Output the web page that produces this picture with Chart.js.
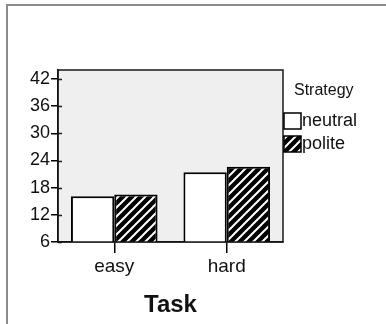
<!DOCTYPE html>
<html>
<head>
<meta charset="utf-8">
<script src="https://cdn.jsdelivr.net/npm/chart.js@4.4.1/dist/chart.umd.min.js"></script>
<style>
html, body { margin: 0; padding: 0; background: #fff; overflow: hidden; }
#frame { position: absolute; left: 6px; top: 4px; width: 500px; height: 500px; border-left: 2px solid #8c8c8c; border-top: 2px solid #8c8c8c; }
#chart { position: absolute; left: 0; top: 0; }
</style>
</head>
<body>
<div id="frame"></div>
<canvas id="chart" width="386" height="324"></canvas>
<script>
var categories = ['easy', 'hard'];
var series_names = ['neutral', 'polite'];
var neutral_values = [16.1, 21.4];
var polite_values = [16.5, 22.6];
var y_ticks = [6, 12, 18, 24, 30, 36, 42];
var y_min = 6, y_max = 44;
var legend_title = 'Strategy';
var x_title = 'Task';

var FONT = '"Liberation Sans", Arial, sans-serif';

// black with thin white "/" stripes
function makeHatch(ctx) {
    var c = document.createElement('canvas');
    c.width = 9; c.height = 9;
    var g = c.getContext('2d');
    g.fillStyle = '#000';
    g.fillRect(0, 0, 9, 9);
    g.strokeStyle = '#fff';
    g.lineWidth = 2;
    g.beginPath();
    g.moveTo(-1, 10); g.lineTo(10, -1);
    g.moveTo(-1, 1); g.lineTo(1, -1);
    g.moveTo(8, 10); g.lineTo(10, 8);
    g.stroke();
    return ctx.createPattern(c, 'repeat');
}

var canvas = document.getElementById('chart');
var ctx = canvas.getContext('2d');
var hatch = makeHatch(ctx);

var plotFrame = {
    id: 'plotFrame',
    beforeDraw: function(chart) {
        var a = chart.chartArea, c = chart.ctx;
        c.save();
        c.fillStyle = '#efefef';
        c.fillRect(a.left, a.top, a.right - a.left, a.bottom - a.top);
        c.restore();
    },
    afterDraw: function(chart) {
        var a = chart.chartArea, c = chart.ctx;
        c.save();
        c.strokeStyle = '#1a1a1a';
        c.lineWidth = 1.5;
        c.strokeRect(a.left, a.top, a.right - a.left, a.bottom - a.top);
        // short tick marks on the inside of the y axis
        var ys = chart.scales.y;
        c.beginPath();
        ys.ticks.forEach(function(t) {
            var p = Math.round(ys.getPixelForValue(t.value)) + 0.5;
            c.moveTo(a.left, p);
            c.lineTo(a.left + 4, p);
        });
        c.stroke();
        c.restore();
    }
};

var sideLegend = {
    id: 'sideLegend',
    afterDraw: function(chart) {
        var a = chart.chartArea, c = chart.ctx;
        c.save();
        c.textBaseline = 'middle';
        c.textAlign = 'left';
        c.fillStyle = '#111';
        c.font = '16px ' + FONT;
        c.fillText(legend_title, a.right + 11, 90.5);
        chart.data.datasets.forEach(function(ds, i) {
            var top = 113 + i * 23;
            c.fillStyle = ds.backgroundColor;
            c.fillRect(a.right + 1, top, 17, 16);
            c.strokeStyle = '#000';
            c.lineWidth = 1.5;
            c.strokeRect(a.right + 1, top, 17, 16);
            c.fillStyle = '#111';
            c.font = '18px ' + FONT;
            c.fillText(ds.label, a.right + 19, top + 8);
        });
        c.restore();
    }
};

var chart = new Chart(canvas, {
    type: 'bar',
    data: {
        labels: categories,
        datasets: [{
            label: series_names[0],
            data: neutral_values,
            backgroundColor: '#ffffff',
            borderColor: '#000000',
            borderWidth: 2
        }, {
            label: series_names[1],
            data: polite_values,
            backgroundColor: hatch,
            borderColor: '#000000',
            borderWidth: 2
        }]
    },
    options: {
        responsive: false,
        animation: false,
        events: [],
        categoryPercentage: 0.77,
        barPercentage: 1.0,
        layout: { padding: { top: 70, right: 103, left: 0, bottom: 0 } },
        plugins: {
            legend: { display: false },
            tooltip: { enabled: false }
        },
        scales: {
            x: {
                offset: true,
                grid: { offset: false, drawOnChartArea: false, drawTicks: true, tickLength: 11, color: '#000', lineWidth: 1.5 },
                border: { display: true, color: '#000', width: 1.5 },
                ticks: { color: '#111', padding: 2, font: { family: FONT, size: 19 } },
                title: { display: true, text: x_title, color: '#111', padding: { top: 0, bottom: 4 }, font: { family: FONT, size: 24, weight: 'bold' } },
                afterFit: function(scale) { scale.height = 82; }
            },
            y: {
                min: y_min,
                max: y_max,
                grid: { drawOnChartArea: false, drawTicks: true, tickLength: 7, color: '#000', lineWidth: 1.5 },
                border: { display: true, color: '#000', width: 1.5 },
                ticks: { color: '#111', padding: 1, font: { family: FONT, size: 18 } },
                afterBuildTicks: function(scale) {
                    scale.ticks = y_ticks.map(function(v) { return { value: v }; });
                },
                afterFit: function(scale) { scale.width = 58; }
            }
        }
    },
    plugins: [plotFrame, sideLegend]
});
</script>
</body>
</html>
